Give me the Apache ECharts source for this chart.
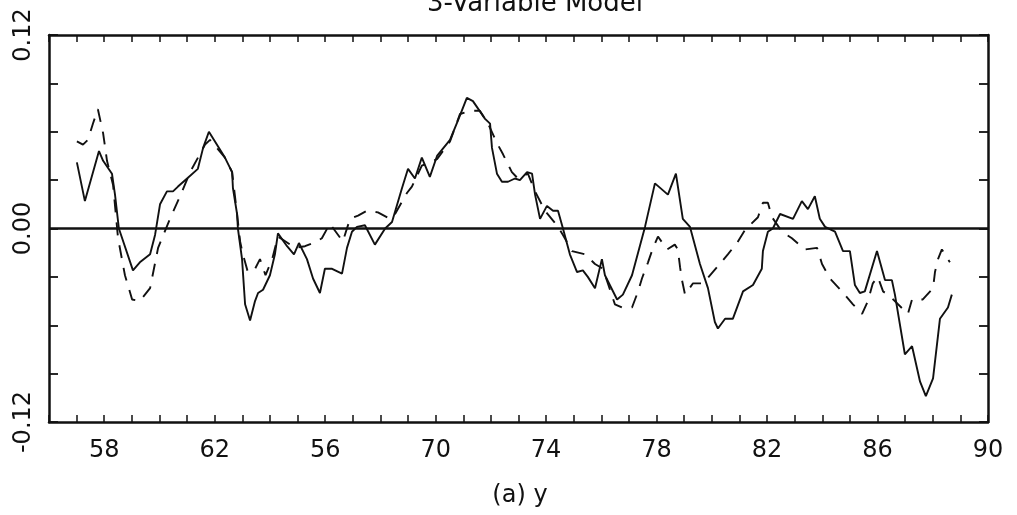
<!DOCTYPE html>
<html>
<head>
<meta charset="utf-8">
<script src="https://cdn.jsdelivr.net/npm/echarts@6/dist/echarts.min.js"></script>
<style>
html,body{margin:0;padding:0;background:#fff;}
#chart{width:1017px;height:515px;}
</style>
</head>
<body>
<div id="chart"></div>
<script>
// ---- data ----
const chartTitle = '3-Variable Model';
const xAxisTitle = '(a) y';
const xTickValues = [58, 62, 66, 70, 74, 78, 82, 86, 90];
const xTickLabels = ['58', '62', '56', '70', '74', '78', '82', '86', '90'];
const yTickValues = [-0.12, 0, 0.12];
const yTickLabels = ['-0.12', '0.00', '0.12'];

const actualYears = [57.01,57.30,57.81,57.96,58.28,58.39,58.53,59.04,59.29,59.66,59.84,60.02,60.27,60.49,60.67,61.00,61.39,61.58,61.79,62.37,62.63,62.66,62.81,62.84,62.99,63.10,63.28,63.46,63.57,63.75,64.00,64.18,64.29,64.62,64.87,65.05,65.34,65.56,65.81,65.99,66.25,66.61,66.79,66.97,67.15,67.44,67.80,68.17,68.42,68.78,69.00,69.25,69.50,69.79,70.05,70.52,70.81,71.13,71.35,71.79,71.97,72.04,72.22,72.40,72.62,72.87,73.05,73.31,73.49,73.60,73.78,74.03,74.25,74.43,74.61,74.86,75.12,75.33,75.51,75.77,76.02,76.13,76.57,76.78,77.11,77.58,77.94,78.41,78.70,78.95,79.21,79.57,79.86,80.11,80.22,80.48,80.76,81.13,81.49,81.81,81.85,82.03,82.21,82.47,82.94,83.26,83.48,83.73,83.91,84.10,84.46,84.75,85.00,85.18,85.36,85.54,85.98,86.27,86.52,86.63,86.99,87.25,87.54,87.75,88.01,88.26,88.55,88.69];
const actualValues = [0.041,0.017,0.048,0.042,0.034,0.021,0.000,-0.026,-0.021,-0.016,-0.004,0.015,0.023,0.023,0.026,0.031,0.037,0.050,0.060,0.044,0.035,0.025,0.009,0.000,-0.019,-0.047,-0.057,-0.045,-0.040,-0.038,-0.029,-0.016,-0.003,-0.011,-0.016,-0.009,-0.019,-0.031,-0.040,-0.025,-0.025,-0.028,-0.012,-0.002,0.001,0.002,-0.010,0.000,0.004,0.025,0.037,0.031,0.044,0.032,0.045,0.055,0.067,0.081,0.079,0.068,0.065,0.050,0.034,0.029,0.029,0.031,0.030,0.035,0.034,0.021,0.006,0.014,0.011,0.011,0.000,-0.016,-0.027,-0.026,-0.030,-0.037,-0.019,-0.029,-0.044,-0.041,-0.029,0.001,0.028,0.021,0.034,0.006,0.001,-0.022,-0.037,-0.058,-0.062,-0.056,-0.056,-0.039,-0.035,-0.025,-0.014,-0.002,0.000,0.009,0.006,0.017,0.012,0.020,0.006,0.001,-0.002,-0.014,-0.014,-0.035,-0.040,-0.039,-0.014,-0.032,-0.032,-0.041,-0.078,-0.073,-0.095,-0.104,-0.093,-0.056,-0.049,-0.041];

const fittedYears = [57.01,57.23,57.41,57.59,57.77,57.96,58.10,58.32,58.50,58.75,59.01,59.29,59.66,59.95,60.38,60.82,61.11,61.65,61.83,62.37,62.63,62.81,62.92,63.02,63.20,63.46,63.64,63.84,64.08,64.29,64.47,64.91,65.27,65.70,65.88,66.17,66.64,66.90,67.19,67.51,67.91,68.35,68.53,68.96,69.14,69.50,70.05,70.52,70.88,71.24,71.60,71.79,71.90,72.22,72.44,72.76,72.98,73.34,73.60,73.96,74.39,74.61,74.94,75.41,75.77,76.06,76.49,76.75,77.11,77.33,77.47,77.69,77.87,78.05,78.38,78.66,78.77,78.85,78.92,79.03,79.32,79.68,80.29,80.58,80.91,81.20,81.67,81.85,82.03,82.18,82.54,82.90,83.37,83.81,83.99,84.28,84.71,85.11,85.44,85.65,85.83,86.01,86.20,86.45,87.10,87.25,87.64,88.01,88.08,88.19,88.33,88.62];
const fittedValues = [0.054,0.052,0.055,0.065,0.074,0.059,0.042,0.027,-0.006,-0.029,-0.044,-0.045,-0.037,-0.012,0.006,0.023,0.035,0.052,0.055,0.044,0.035,0.009,-0.008,-0.016,-0.027,-0.025,-0.019,-0.029,-0.019,-0.005,-0.007,-0.012,-0.011,-0.008,-0.006,0.003,-0.008,0.006,0.008,0.011,0.010,0.006,0.009,0.022,0.026,0.039,0.043,0.054,0.071,0.073,0.073,0.068,0.065,0.053,0.046,0.035,0.031,0.034,0.023,0.011,0.002,-0.004,-0.014,-0.016,-0.022,-0.025,-0.047,-0.049,-0.049,-0.039,-0.031,-0.021,-0.012,-0.005,-0.013,-0.010,-0.013,-0.024,-0.032,-0.041,-0.034,-0.034,-0.022,-0.016,-0.009,-0.001,0.007,0.016,0.016,0.007,-0.002,-0.006,-0.013,-0.012,-0.022,-0.031,-0.039,-0.047,-0.053,-0.045,-0.034,-0.030,-0.039,-0.042,-0.053,-0.044,-0.044,-0.037,-0.027,-0.019,-0.013,-0.021];

// ---- chart ----
const FONT = 'DejaVu Sans';
const INK = '#111';
const chart = echarts.init(document.getElementById('chart'), null, {renderer: 'canvas'});

function pairs(xs, ys) { return xs.map((x, i) => [x, ys[i]]); }
function labelFor(values, labels, v) {
  for (let i = 0; i < values.length; i++) {
    if (Math.abs(values[i] - v) < 1e-9) return labels[i];
  }
  return '';
}

const frameLine = {show: true, onZero: false, lineStyle: {color: INK, width: 2.5}};

chart.setOption({
  animation: false,
  backgroundColor: '#fff',
  title: [
    {text: chartTitle, left: 530, top: -14, textAlign: 'center',
     textStyle: {fontFamily: FONT, fontSize: 26, fontWeight: 'normal', color: INK}},
    {text: xAxisTitle, left: 515, top: 479, textAlign: 'center',
     textStyle: {fontFamily: FONT, fontSize: 24, fontWeight: 'normal', color: INK}}
  ],
  grid: {left: 49, right: 29, top: 35, bottom: 93, containLabel: false},
  xAxis: [
    {type: 'value', position: 'bottom', min: 56, max: 90, interval: 1,
     axisLine: frameLine,
     axisTick: {show: true, inside: true, length: 7, lineStyle: {color: INK, width: 1.5}},
     axisLabel: {show: true, margin: 17, fontFamily: FONT, fontSize: 24, color: INK,
                 formatter: v => labelFor(xTickValues, xTickLabels, v)},
     splitLine: {show: false}},
    {type: 'value', position: 'top', min: 56, max: 90, interval: 1,
     axisLine: frameLine,
     axisTick: {show: true, inside: true, length: 7, lineStyle: {color: INK, width: 1.5}},
     axisLabel: {show: false}, splitLine: {show: false}}
  ],
  yAxis: [
    {type: 'value', position: 'left', min: -0.12, max: 0.12, interval: 0.03,
     axisLine: frameLine,
     axisTick: {show: true, inside: true, length: 9, lineStyle: {color: INK, width: 1.8}},
     axisLabel: {show: true, rotate: 90, margin: 13, fontFamily: FONT, fontSize: 24, color: INK,
                 showMinLabel: true, showMaxLabel: true,
                 formatter: v => labelFor(yTickValues, yTickLabels, v)},
     splitLine: {show: false}},
    {type: 'value', position: 'right', min: -0.12, max: 0.12, interval: 0.03,
     axisLine: frameLine,
     axisTick: {show: true, inside: true, length: 9, lineStyle: {color: INK, width: 1.8}},
     axisLabel: {show: false}, splitLine: {show: false}}
  ],
  series: [
    {name: 'actual', type: 'line', xAxisIndex: 0, yAxisIndex: 0,
     data: pairs(actualYears, actualValues), showSymbol: false, symbol: 'none',
     lineStyle: {color: INK, width: 1.9, type: 'solid'},
     markLine: {silent: true, symbol: ['none', 'none'], label: {show: false},
                lineStyle: {color: INK, width: 2.5, type: 'solid'},
                data: [{yAxis: 0}]}},
    {name: 'fitted', type: 'line', xAxisIndex: 0, yAxisIndex: 0,
     data: pairs(fittedYears, fittedValues), showSymbol: false, symbol: 'none',
     lineStyle: {color: INK, width: 1.9, type: [13, 10]}}
  ]
});
</script>
</body>
</html>
